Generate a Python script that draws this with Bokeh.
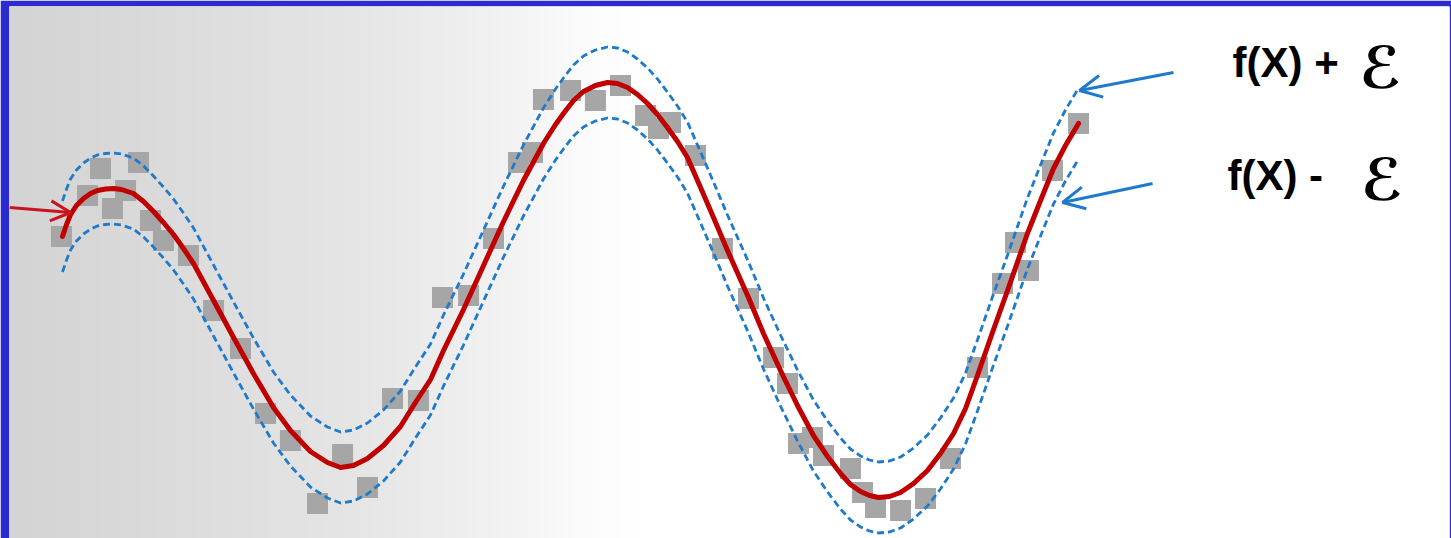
import numpy as np
from bokeh.plotting import figure
from bokeh.models import Range1d, Arrow, OpenHead, Label
from bokeh.embed import file_html
from bokeh.resources import INLINE

# ---- data (X in 0..100, Y in -2.66..2.66) ----
fx_x = [3.68, 3.96, 4.24, 4.65, 5.14, 5.63, 6.11, 6.67, 7.22, 7.78, 8.61, 9.31,
        10.00, 10.69, 11.39, 12.08, 12.78, 14.17, 15.56, 16.94, 18.33, 19.51, 20.90,
        22.08, 22.99, 23.89, 24.86, 25.97, 27.15, 28.19, 29.24, 30.14, 31.53, 32.92,
        34.31, 35.69, 37.08, 37.92, 38.47, 39.17, 39.86, 40.69, 41.53, 42.22, 42.92,
        43.61, 44.31, 45.00, 45.69, 46.39, 47.08, 47.99, 48.89, 49.86, 51.32, 52.36,
        53.54, 54.72, 55.83, 56.81, 57.71, 58.40, 59.10, 59.72, 60.35, 61.11, 61.88,
        62.78, 63.75, 64.65, 65.56, 66.39, 67.22, 68.26, 69.31, 70.69, 71.60, 72.50,
        73.33, 74.24]
fx_y = [0.36, 0.48, 0.58, 0.67, 0.74, 0.79, 0.82, 0.835, 0.84, 0.83, 0.79, 0.71,
        0.61, 0.50, 0.38, 0.24, 0.09, -0.28, -0.65, -1.01, -1.35, -1.58, -1.79,
        -1.90, -1.95, -1.93, -1.86, -1.73, -1.54, -1.30, -1.07, -0.78, -0.37, 0.07,
        0.51, 0.92, 1.29, 1.48, 1.59, 1.72, 1.81, 1.87, 1.90, 1.89, 1.85,
        1.78, 1.69, 1.58, 1.45, 1.31, 1.15, 0.85, 0.55, 0.22, -0.25, -0.61,
        -0.98, -1.33, -1.63, -1.84, -2.01, -2.12, -2.19, -2.23, -2.25, -2.24, -2.20,
        -2.11, -1.98, -1.81, -1.61, -1.36, -1.03, -0.60, -0.18, 0.39, 0.72, 1.04,
        1.27, 1.49]
eps = 0.355

obs_x = [3.61, 5.42, 6.32, 7.15, 8.06, 8.96, 9.79, 10.69, 12.43, 14.17, 16.04, 17.78,
         19.51, 21.39, 23.13, 24.86, 26.60, 28.40, 30.07, 31.88, 33.61, 35.35, 36.32,
         37.08, 38.96, 40.69, 42.43, 44.17, 45.07, 45.90, 47.64, 49.51, 51.32, 53.06,
         54.03, 54.79, 55.76, 56.53, 58.40, 59.24, 60.14, 61.88, 63.61, 65.35, 67.22,
         68.96, 69.86, 70.76, 72.43, 74.24]
obs_y = [0.36, 0.77, 1.04, 0.64, 0.82, 1.10, 0.52, 0.32, 0.17, -0.38, -0.76, -1.41,
         -1.68, -2.31, -1.82, -2.15, -1.26, -1.28, -0.25, -0.23, 0.34, 1.10, 1.20,
         1.73, 1.82, 1.72, 1.87, 1.57, 1.44, 1.50, 1.17, 0.24, -0.26, -0.85,
         -1.11, -1.71, -1.65, -1.83, -1.96, -2.20, -2.35, -2.38, -2.26, -1.86, -0.95,
         -0.11, 0.30, 0.02, 1.02, 1.49]

label_plus = "f(X) +"
label_minus = "f(X) -"
eps_symbol = "\u2130"

upper = [v + eps for v in fx_y]
lower = [v - eps for v in fx_y]

p = figure(width=1451, height=538, x_range=Range1d(0, 100), y_range=Range1d(-2.66, 2.66),
           output_backend="svg", toolbar_location=None,
           x_axis_location=None, y_axis_location=None,
           min_border_left=9, min_border_right=2, min_border_top=6, min_border_bottom=0)
p.styles = {"position": "absolute", "left": "0px", "top": "0px"}
p.grid.visible = False
p.outline_line_color = None
p.border_fill_color = "#2b2bd0"
p.background_fill_color = "white"

# gradient background
cols = 1440
px = np.arange(cols) + 9
gray = np.interp(px, [9, 100, 250, 360, 500, 600, 640], [212, 216, 224, 230, 242, 253, 255]).astype(np.uint8)
img = np.empty((1, cols), dtype=np.uint32)
view = img.view(dtype=np.uint8).reshape((1, cols, 4))
view[0, :, 0] = gray
view[0, :, 1] = gray
view[0, :, 2] = gray
view[0, :, 3] = 255
p.image_rgba(image=[img], x=0, y=-2.66, dw=100, dh=5.32)

blue = "#1f7acb"
red = "#c00000"
p.scatter(obs_x, obs_y, marker="square", size=21, fill_color="#a6a6a6", line_color=None)
p.line(fx_x, upper, line_color=blue, line_width=2.8, line_dash="7 4")
p.line(fx_x, lower, line_color=blue, line_width=2.8, line_dash="7 4")
p.line(fx_x, fx_y, line_color=red, line_width=5, line_join="round", line_cap="round")

p.add_layout(Arrow(end=OpenHead(size=20, line_color="#c8141c", line_width=3),
                   x_start=0.0, y_start=0.65, x_end=4.24, y_end=0.60,
                   line_color="#c8141c", line_width=3))
p.add_layout(Arrow(end=OpenHead(size=22, line_color=blue, line_width=3),
                   x_start=80.83, y_start=2.00, x_end=74.31, y_end=1.82,
                   line_color=blue, line_width=3))
p.add_layout(Arrow(end=OpenHead(size=22, line_color=blue, line_width=3),
                   x_start=79.38, y_start=0.89, x_end=73.13, y_end=0.70,
                   line_color=blue, line_width=3))

for (tx, ty, txt) in [(84.93, 2.10, label_plus), (84.58, 0.97, label_minus)]:
    p.add_layout(Label(x=tx, y=ty, text=txt, text_font="Liberation Sans", text_font_style="bold",
                       text_font_size="42px", text_color="black", text_baseline="alphabetic"))
for (tx, ty) in [(93.75, 2.05), (93.85, 0.93)]:
    p.add_layout(Label(x=tx, y=ty, text=eps_symbol, text_font="DejaVu Sans", text_font_style="bold",
                       text_font_size="58px", text_color="black", text_baseline="alphabetic"))

open("out.html", "w").write(file_html(p, INLINE))
